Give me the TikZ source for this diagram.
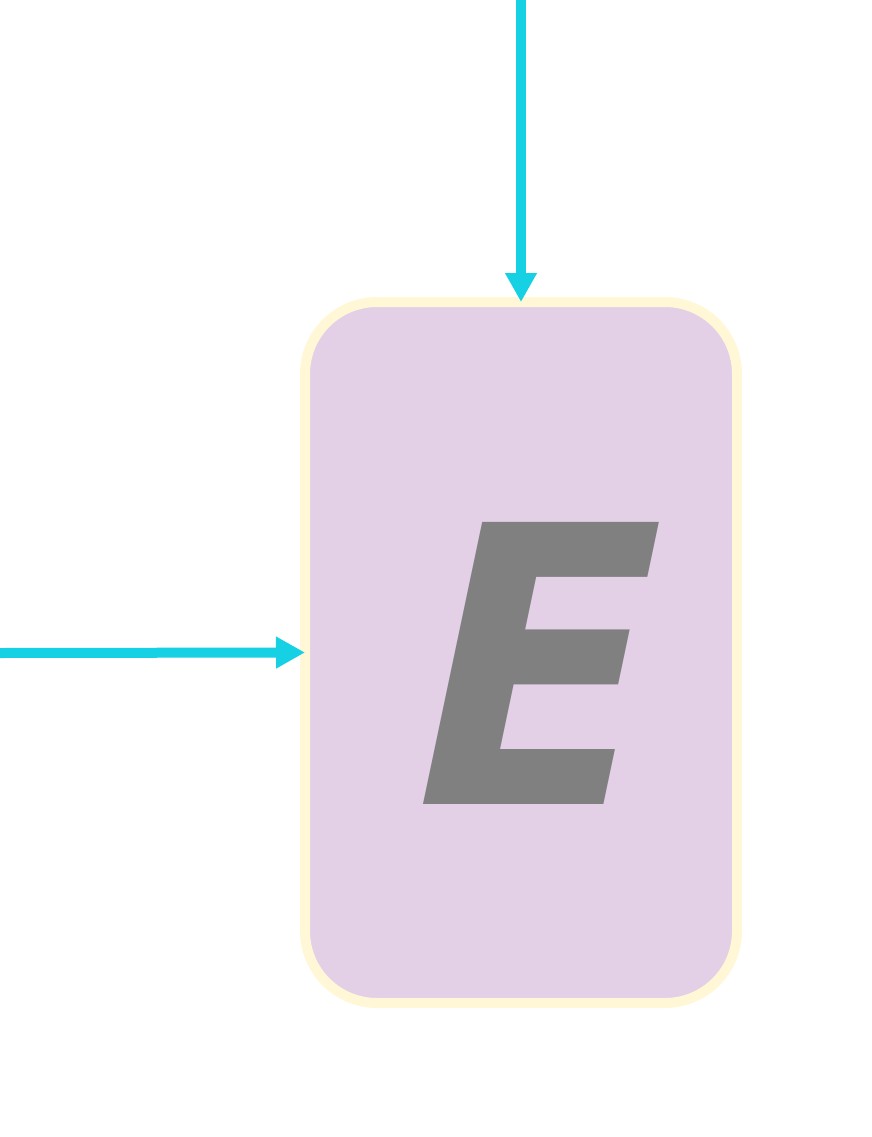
\documentclass[tikz,border=0pt]{standalone}
\usepackage{fontspec}
\newfontfamily\efont{DejaVu Sans Condensed}
\usetikzlibrary{arrows.meta}
\definecolor{arrowcyan}{HTML}{16D0E3}
\definecolor{boxborder}{HTML}{FFF7D6}
\definecolor{boxfill}{HTML}{E3D0E7}
\definecolor{letter}{HTML}{808080}
\tikzset{
  flow/.style={draw=arrowcyan, line width=10pt, -{Triangle[length=29pt,width=30pt]}},
  bigbox/.style={draw=boxborder, fill=boxfill, line width=10pt, rounded corners=72pt,
    minimum width=432pt, minimum height=701pt, inner sep=0pt, outer sep=0pt, rectangle},
}
\begin{document}
\begin{tikzpicture}[x=1pt,y=-1pt]
\useasboundingbox (0,0) rectangle (871,1137);
\node[bigbox] (box) at (521,652.5) {};
\node[inner sep=0pt, anchor=base, text=letter, font={\efont\bfseries\fontsize{387}{387}\selectfont}, transform shape, xslant=0.21] (E) at (510,804) {E};
\coordinate (topin) at (521,0);
\coordinate (leftin) at (0,653);
\draw[flow] (topin) -- (box.north);
\draw[flow] (leftin) -- (box.west);
\end{tikzpicture}
\end{document}
